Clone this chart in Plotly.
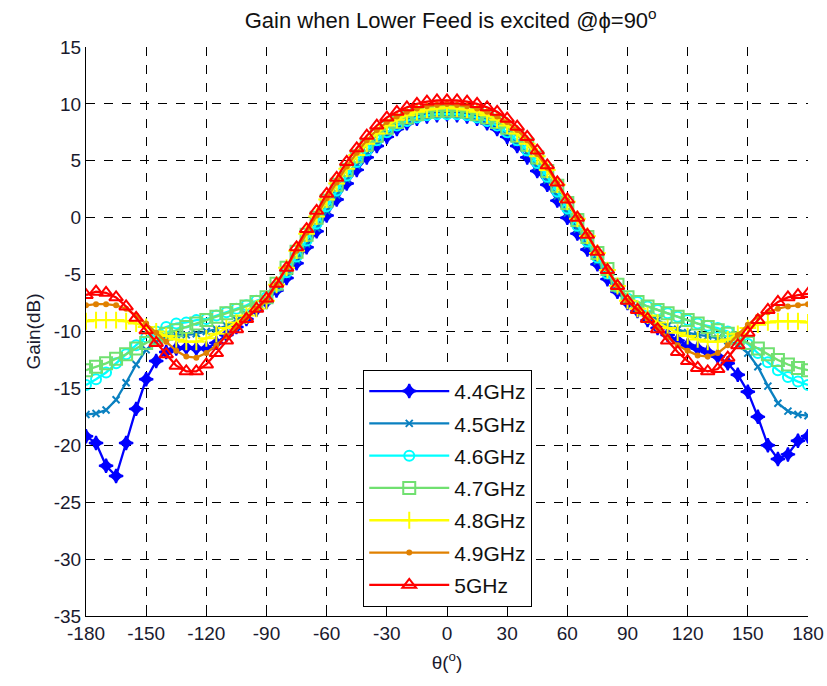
import plotly.graph_objects as go

theta = list(range(-180, 181, 5))
x_ticks = list(range(-180, 181, 30))
y_ticks = list(range(-35, 16, 5))

labels = ["4.4GHz", "4.5GHz", "4.6GHz", "4.7GHz", "4.8GHz", "4.9GHz", "5GHz"]

g44 = [-19.2, -19.8, -21.8, -22.7, -19.8, -16.8, -14.2, -12.6, -11.8, -11.5, -11.4, -11.5, -11.5, -11.0, -10.3, -9.6, -8.9, -8.1,
       -7.4, -6.4, -5.3, -4.0, -2.6, -1.2, 0.2, 1.6, 3.0, 4.2, 5.3, 6.3, 7.1, 7.8, 8.3, 8.7, 8.9, 9.0,
       9.1,
       9.0, 8.9, 8.7, 8.3, 7.8, 7.1, 6.3, 5.3, 4.1, 2.9, 1.5, 0.0, -1.4, -2.8, -4.1, -5.4, -6.5, -7.5,
       -8.2, -9.0, -9.7, -10.3, -10.8, -11.2, -11.5, -11.8, -12.2, -12.8, -13.8, -15.3, -17.5, -20.0, -21.2, -20.8, -19.6, -19.2]

g45 = [-17.3, -17.2, -16.9, -16.0, -14.5, -12.9, -11.6, -10.9, -10.5, -10.3, -10.3, -10.2, -10.0, -9.8, -9.5, -9.0, -8.5, -7.9,
       -7.3, -6.2, -5.0, -3.7, -2.3, -0.9, 0.6, 2.0, 3.4, 4.6, 5.7, 6.6, 7.4, 8.0, 8.5, 8.8, 9.0, 9.2,
       9.2,
       9.2, 9.0, 8.8, 8.5, 8.0, 7.4, 6.6, 5.7, 4.5, 3.3, 1.9, 0.4, -1.0, -2.4, -3.8, -5.1, -6.3, -7.3,
       -7.9, -8.5, -9.0, -9.5, -9.8, -10.1, -10.3, -10.4, -10.6, -10.8, -11.2, -11.9, -13.1, -14.8, -16.3, -17.0, -17.3, -17.4]

g46 = [-14.7, -14.2, -13.6, -12.8, -12.0, -11.2, -10.5, -10.0, -9.6, -9.3, -9.2, -9.0, -8.9, -8.6, -8.3, -8.0, -7.7, -7.3,
       -7.0, -6.0, -4.8, -3.4, -2.0, -0.5, 1.0, 2.4, 3.7, 4.9, 5.9, 6.8, 7.5, 8.1, 8.5, 8.8, 9.0, 9.1,
       9.1,
       9.1, 9.0, 8.8, 8.5, 8.1, 7.5, 6.8, 5.9, 4.8, 3.6, 2.3, 0.8, -0.7, -2.1, -3.5, -4.9, -6.1, -7.1,
       -7.4, -7.8, -8.1, -8.4, -8.7, -9.0, -9.3, -9.5, -9.7, -10.0, -10.5, -11.1, -11.9, -12.7, -13.4, -14.0, -14.4, -14.7]

g47 = [-13.4, -13.1, -12.8, -12.4, -12.0, -11.5, -11.0, -10.6, -10.2, -9.9, -9.6, -9.3, -9.0, -8.7, -8.4, -8.1, -7.8, -7.4,
       -7.0, -5.8, -4.4, -3.0, -1.5, 0.0, 1.5, 2.9, 4.2, 5.4, 6.4, 7.2, 7.9, 8.4, 8.8, 9.1, 9.3, 9.4,
       9.4,
       9.4, 9.3, 9.1, 8.8, 8.4, 7.9, 7.2, 6.4, 5.3, 4.1, 2.8, 1.3, -0.2, -1.7, -3.1, -4.5, -5.9, -7.0,
       -7.4, -7.8, -8.1, -8.4, -8.7, -9.0, -9.3, -9.6, -9.9, -10.2, -10.6, -11.0, -11.5, -12.0, -12.5, -12.9, -13.2, -13.4]

g48 = [-9.1, -9.0, -9.0, -9.0, -9.1, -9.3, -9.6, -10.0, -10.4, -10.7, -10.9, -10.9, -10.6, -10.2, -9.7, -9.2, -8.6, -8.0,
       -7.3, -5.9, -4.4, -2.9, -1.4, 0.1, 1.6, 3.0, 4.3, 5.5, 6.5, 7.4, 8.1, 8.6, 9.0, 9.3, 9.5, 9.6,
       9.7,
       9.6, 9.5, 9.3, 9.0, 8.6, 8.1, 7.4, 6.5, 5.4, 4.2, 2.9, 1.4, -0.1, -1.6, -3.1, -4.6, -6.0, -7.3,
       -8.0, -8.6, -9.2, -9.7, -10.1, -10.4, -10.7, -10.9, -10.9, -10.7, -10.2, -9.7, -9.4, -9.2, -9.1, -9.1, -9.1, -9.2]

g49 = [-7.7, -7.6, -7.6, -7.7, -8.0, -8.6, -9.3, -10.1, -10.9, -11.7, -12.2, -12.3, -11.9, -11.2, -10.4, -9.6, -8.8, -8.0,
       -7.3, -5.9, -4.4, -2.9, -1.3, 0.2, 1.7, 3.1, 4.5, 5.7, 6.8, 7.7, 8.4, 8.9, 9.3, 9.6, 9.8, 9.9,
       10.0,
       9.9, 9.8, 9.6, 9.3, 8.9, 8.4, 7.7, 6.8, 5.6, 4.4, 3.0, 1.5, 0.0, -1.5, -3.0, -4.5, -6.0, -7.3,
       -8.1, -8.9, -9.7, -10.5, -11.2, -11.7, -12.1, -12.2, -11.9, -11.2, -10.3, -9.4, -8.7, -8.3, -8.0, -7.8, -7.7, -7.6]

g50 = [-6.8, -6.5, -6.6, -7.0, -7.8, -8.8, -9.9, -11.0, -12.0, -13.0, -13.5, -13.5, -12.9, -11.9, -10.8, -9.8, -8.9, -8.0,
       -7.1, -5.8, -4.4, -2.6, -1.0, 0.6, 2.1, 3.5, 4.9, 6.1, 7.2, 8.1, 8.8, 9.3, 9.7, 10.0, 10.2, 10.3,
       10.3,
       10.3, 10.2, 10.0, 9.7, 9.3, 8.7, 8.0, 7.1, 5.9, 4.6, 3.1, 1.6, 0.0, -1.5, -3.0, -4.6, -6.0, -7.3,
       -8.1, -8.9, -9.8, -10.8, -11.8, -12.6, -13.2, -13.5, -13.3, -12.3, -11.2, -10.1, -9.0, -8.1, -7.4, -7.0, -6.8, -6.7]

series = [g44, g45, g46, g47, g48, g49, g50]
colors = ["#0000ff", "#0a80c0", "#00ffff", "#70e070", "#ffff00", "#e08000", "#ff0000"]
symbols = ["star-diamond", "x-thin-open", "circle-open", "square-open", "cross-thin-open", "circle", "triangle-up-open"]
msizes = [10, 7, 10, 12, 12, 4, 12]

font_family = "Liberation Sans, Arial"

fig = go.Figure()
for lab, ys, c, s, ms in zip(labels, series, colors, symbols, msizes):
    fig.add_trace(go.Scatter(
        x=theta, y=ys, name=lab, mode="lines+markers", legendgroup=lab,
        line=dict(color=c, width=2.3),
        marker=dict(symbol=s, size=ms, color=c, line=dict(color=c, width=2)),
    ))

fig.update_layout(
    width=827, height=686,
    paper_bgcolor="white", plot_bgcolor="white",
    margin=dict(l=86, r=19, t=47, b=70, autoexpand=False),
    font=dict(family=font_family, size=19, color="#1a1a2e"),
    title=dict(text="Gain when Lower Feed is excited @ϕ=90<sup>o</sup>",
               x=0.545, xanchor="center", y=0.982, yanchor="top",
               font=dict(family=font_family, size=22, color="#111")),
    legend=dict(x=0.384, y=0.016, xanchor="left", yanchor="bottom",
                bgcolor="white", bordercolor="black", borderwidth=1,
                font=dict(family=font_family, size=21, color="#111"),
                itemwidth=80, tracegroupgap=2),
    showlegend=True,
)

fig.update_xaxes(range=[-180, 180], tickvals=x_ticks, ticktext=[str(v) for v in x_ticks],
                 showline=True, linecolor="black", linewidth=1, mirror=False,
                 ticks="inside", ticklen=7, tickcolor="black", automargin=False,
                 showgrid=True, gridcolor="black", griddash="dash", gridwidth=1,
                 zeroline=False, tickfont=dict(size=19),
                 title=dict(text="θ(<sup>o</sup>)", standoff=12, font=dict(size=19)))
fig.update_yaxes(range=[-35, 15], tickvals=y_ticks, ticktext=[str(v) for v in y_ticks],
                 showline=True, linecolor="black", linewidth=1, mirror=False,
                 ticks="inside", ticklen=7, tickcolor="black", automargin=False,
                 showgrid=True, gridcolor="black", griddash="dash", gridwidth=1,
                 zeroline=False, tickfont=dict(size=19),
                 title=dict(text="Gain(dB)", standoff=8, font=dict(size=19)))

fig.write_html("out.html")
